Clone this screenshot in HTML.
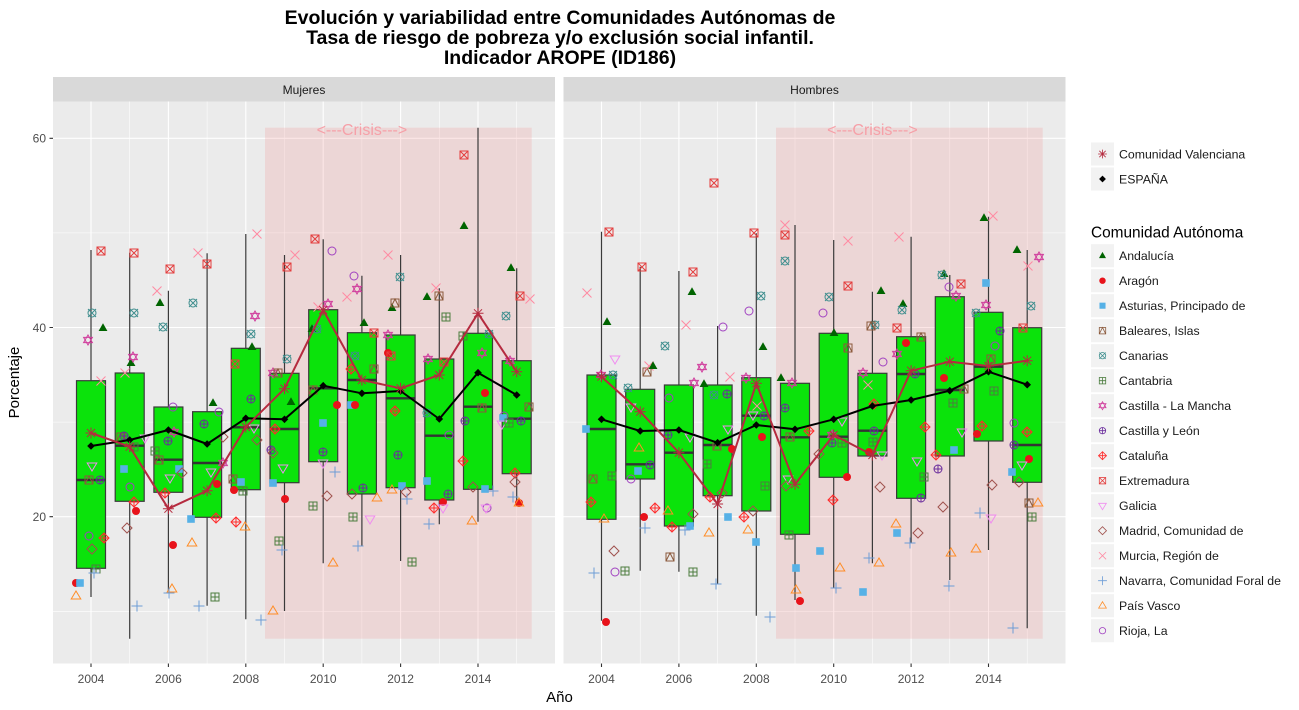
<!DOCTYPE html>
<html><head><meta charset="utf-8"><style>
html,body{margin:0;padding:0;background:#fff;}
svg{display:block;font-family:"Liberation Sans",Arial,sans-serif;}
</style></head><body>
<svg width="1299" height="710" viewBox="0 0 1299 710" xmlns="http://www.w3.org/2000/svg">
<defs>
<polygon id="a" points="0,-4.8 4.4,3 -4.4,3" fill="#006400"/>
<circle id="r" r="4" fill="#E8131B"/>
<rect id="s" x="-3.8" y="-3.8" width="7.6" height="7.6" fill="#56B1E6"/>
<g id="b" stroke="#8B5A3C" fill="none" stroke-width="1"><rect x="-4" y="-4" width="8" height="8"/><polyline points="-4,4 0,-4 4,4"/></g>
<g id="k" stroke="#3E8E8E" fill="none" stroke-width="1"><circle r="4"/><path d="M-4,-4L4,4M-4,4L4,-4"/></g>
<g id="t" stroke="#4C7D3F" fill="none" stroke-width="1"><rect x="-4" y="-4" width="8" height="8"/><path d="M0,-4V4M-4,0H4"/></g>
<g id="m" stroke="#D03C9C" fill="none" stroke-width="1"><polygon points="0,-5 4.4,2.6 -4.4,2.6"/><polygon points="0,5 4.4,-2.6 -4.4,-2.6"/></g>
<g id="l" stroke="#6A2C9C" fill="none" stroke-width="1"><circle r="4"/><path d="M0,-4V4M-4,0H4"/></g>
<g id="c" stroke="#FF2B2B" fill="none" stroke-width="1"><polygon points="0,-5 5,0 0,5 -5,0"/><path d="M0,-5V5M-5,0H5"/></g>
<g id="e" stroke="#E33D3D" fill="none" stroke-width="1"><rect x="-4" y="-4" width="8" height="8"/><path d="M-4,-4L4,4M-4,4L4,-4"/></g>
<polygon id="g" points="-4.8,-3 4.8,-3 0,5" stroke="#F08CF0" fill="none" stroke-width="1"/>
<polygon id="d" points="0,-5 5,0 0,5 -5,0" stroke="#A0524E" fill="none" stroke-width="1"/>
<path id="u" d="M-4.5,-4.5L4.5,4.5M-4.5,4.5L4.5,-4.5" stroke="#FF8AA2" stroke-width="1" fill="none"/>
<path id="n" d="M0,-5.5V5.5M-5.5,0H5.5" stroke="#6C9CD6" stroke-width="1" fill="none"/>
<polygon id="p" points="0,-5 4.8,3 -4.8,3" stroke="#FF8C26" fill="none" stroke-width="1"/>
<circle id="o" r="4" stroke="#A040C0" fill="none" stroke-width="1"/>
<path id="v" d="M-4,-4L4,4M-4,4L4,-4M0,-5.5V5.5M-5.5,0H5.5" stroke="#B52B3F" stroke-width="1" fill="none"/>
<polygon id="x" points="0,-3.8 3.8,0 0,3.8 -3.8,0" fill="#000"/>
</defs>

<!-- Title -->
<g font-weight="bold" font-size="19.5" fill="#000" text-anchor="middle">
<text x="560" y="24">Evolución y variabilidad entre Comunidades Autónomas de</text>
<text x="560" y="44">Tasa de riesgo de pobreza y/o exclusión social infantil.</text>
<text x="560" y="64">Indicador AROPE (ID186)</text>
</g>

<!-- Strips -->
<rect x="53" y="77" width="502" height="24.5" fill="#D9D9D9"/>
<rect x="563.5" y="77" width="502" height="24.5" fill="#D9D9D9"/>
<g font-size="12" fill="#1A1A1A" text-anchor="middle">
<text x="304" y="94">Mujeres</text>
<text x="814.5" y="94">Hombres</text>
</g>

<!-- Panels -->
<rect x="53" y="101.5" width="502" height="562" fill="#EBEBEB"/>
<rect x="563.5" y="101.5" width="502" height="562" fill="#EBEBEB"/>

<!-- Minor grid -->
<g stroke="#fff" stroke-width="0.55">
<path d="M53,611.3H555M53,422.1H555M53,232.9H555M563.5,611.3H1065.5M563.5,422.1H1065.5M563.5,232.9H1065.5"/>
<path d="M129.7,101.5V663.5M207.1,101.5V663.5M284.5,101.5V663.5M361.9,101.5V663.5M439.3,101.5V663.5M516.7,101.5V663.5"/>
<path d="M640.2,101.5V663.5M717.6,101.5V663.5M795,101.5V663.5M872.4,101.5V663.5M949.8,101.5V663.5M1027.2,101.5V663.5"/>
</g>
<!-- Major grid -->
<g stroke="#fff" stroke-width="1.1">
<path d="M53,516.7H555M53,327.5H555M53,138.3H555M563.5,516.7H1065.5M563.5,327.5H1065.5M563.5,138.3H1065.5"/>
<path d="M91,101.5V663.5M168.4,101.5V663.5M245.8,101.5V663.5M323.2,101.5V663.5M400.6,101.5V663.5M478,101.5V663.5"/>
<path d="M601.5,101.5V663.5M678.9,101.5V663.5M756.3,101.5V663.5M833.7,101.5V663.5M911.1,101.5V663.5M988.5,101.5V663.5"/>
</g>

<!-- Crisis rects -->
<rect x="265" y="127.7" width="266.7" height="511" fill="#F08080" fill-opacity="0.2"/>
<rect x="776" y="127.7" width="266.7" height="511" fill="#F08080" fill-opacity="0.2"/>
<g font-size="16" fill="#F6A0A8" text-anchor="middle">
<text x="361.9" y="135">&lt;---Crisis---&gt;</text>
<text x="872.4" y="135">&lt;---Crisis---&gt;</text>
</g>

<!-- Boxplots -->
<g stroke="#3A3A3A" stroke-width="1.2" fill="#0BE30B">
<!-- Left -->
<path d="M91,250V380.7M91,568.3V597" fill="none"/><rect x="76.5" y="380.7" width="29" height="187.6"/>
<path d="M129.7,252.7V373M129.7,501.3V638.7" fill="none"/><rect x="115.2" y="373" width="29" height="128.3"/>
<path d="M168.4,290.7V407M168.4,492.3V591" fill="none"/><rect x="153.9" y="407" width="29" height="85.3"/>
<path d="M207.1,253.3V411.7M207.1,517.3V605.7" fill="none"/><rect x="192.6" y="411.7" width="29" height="105.6"/>
<path d="M245.8,234V348.3M245.8,489.7V619.3" fill="none"/><rect x="231.3" y="348.3" width="29" height="141.4"/>
<path d="M284.5,255V373.3M284.5,482.7V611" fill="none"/><rect x="270" y="373.3" width="29" height="109.4"/>
<path d="M323.2,239.3V309.7M323.2,461.7V563.3" fill="none"/><rect x="308.7" y="309.7" width="29" height="152"/>
<path d="M361.9,275.7V332.7M361.9,494V545.7" fill="none"/><rect x="347.4" y="332.7" width="29" height="161.3"/>
<path d="M400.6,255V335M400.6,487.7V561" fill="none"/><rect x="386.1" y="335" width="29" height="152.7"/>
<path d="M439.3,288.3V359M439.3,500V524.3" fill="none"/><rect x="424.8" y="359" width="29" height="141"/>
<path d="M478,127.7V333.3M478,489.3V521.7" fill="none"/><rect x="463.5" y="333.3" width="29" height="156"/>
<path d="M516.7,268.3V360.7M516.7,473.7V505" fill="none"/><rect x="502.2" y="360.7" width="29" height="113"/>
<!-- Right -->
<path d="M601.5,231.7V375M601.5,519.3V620.7" fill="none"/><rect x="587" y="375" width="29" height="144.3"/>
<path d="M640.2,266.7V389.3M640.2,479V570.7" fill="none"/><rect x="625.7" y="389.3" width="29" height="89.7"/>
<path d="M678.9,271V385M678.9,526V571.7" fill="none"/><rect x="664.4" y="385" width="29" height="141"/>
<path d="M717.6,326V385M717.6,495.7V584" fill="none"/><rect x="703.1" y="385" width="29" height="110.7"/>
<path d="M756.3,233.3V377.7M756.3,511V615.7" fill="none"/><rect x="741.8" y="377.7" width="29" height="133.3"/>
<path d="M795,225V383.3M795,534.3V600" fill="none"/><rect x="780.5" y="383.3" width="29" height="151"/>
<path d="M833.7,240V333.3M833.7,477.3V588.3" fill="none"/><rect x="819.2" y="333.3" width="29" height="144"/>
<path d="M872.4,291.7V373.3M872.4,456V563.3" fill="none"/><rect x="857.9" y="373.3" width="29" height="82.7"/>
<path d="M911.1,236.7V336.7M911.1,498.3V543.3" fill="none"/><rect x="896.6" y="336.7" width="29" height="161.6"/>
<path d="M949.8,275V296.7M949.8,456V580" fill="none"/><rect x="935.3" y="296.7" width="29" height="159.3"/>
<path d="M988.5,216.7V312.3M988.5,441V550" fill="none"/><rect x="974" y="312.3" width="29" height="128.7"/>
<path d="M1027.2,250V327.7M1027.2,482.3V628.3" fill="none"/><rect x="1012.7" y="327.7" width="29" height="154.6"/>
</g>
<!-- Medians -->
<g stroke="#333" stroke-width="2.4">
<path d="M76.5,480H105.5M115.2,445.7H144.2M153.9,459.7H182.9M192.6,463H221.6M231.3,427.3H260.3M270,429H299M308.7,388.3H337.7M347.4,380H376.4M386.1,398.3H415.1M424.8,435.7H453.8M463.5,406.7H492.5M502.2,418.7H531.2"/>
<path d="M587,429H616M625.7,464.3H654.7M664.4,452.7H693.4M703.1,445H732.1M741.8,415.7H770.8M780.5,437.3H809.5M819.2,436.7H848.2M857.9,430.7H886.9M896.6,374H925.6M935.3,390H964.3M974,366.7H1003M1012.7,445H1041.7"/>
</g>

<!-- Points left -->
<g>
<use href="#k" x="92" y="313"/><use href="#e" x="101" y="251"/><use href="#m" x="88" y="340"/><use href="#a" x="103" y="328"/><use href="#u" x="101" y="381"/><use href="#g" x="92" y="466"/><use href="#b" x="89" y="480"/><use href="#l" x="100" y="480"/><use href="#o" x="89" y="536"/><use href="#d" x="92" y="549"/><use href="#c" x="104" y="538"/><use href="#t" x="96" y="569"/><use href="#n" x="94" y="573"/><use href="#r" x="76" y="583"/><use href="#s" x="80" y="583"/><use href="#p" x="76" y="596"/>
<use href="#e" x="134" y="253"/><use href="#k" x="134" y="313"/><use href="#a" x="131" y="363"/><use href="#m" x="133" y="357"/><use href="#u" x="125" y="373"/><use href="#b" x="121" y="437"/><use href="#l" x="124" y="436"/><use href="#g" x="145" y="438"/><use href="#t" x="134" y="447"/><use href="#s" x="124" y="469"/><use href="#o" x="130" y="487"/><use href="#c" x="134" y="502"/><use href="#r" x="136" y="511"/><use href="#d" x="127" y="528"/><use href="#n" x="137" y="606"/>
<use href="#e" x="170" y="269"/><use href="#u" x="157" y="291"/><use href="#a" x="160" y="303"/><use href="#k" x="163" y="327"/><use href="#o" x="173" y="407"/><use href="#m" x="174" y="432"/><use href="#l" x="168" y="441"/><use href="#t" x="155" y="451"/><use href="#b" x="159" y="460"/><use href="#g" x="170" y="478"/><use href="#s" x="179" y="469"/><use href="#d" x="182" y="473"/><use href="#c" x="165" y="493"/><use href="#r" x="173" y="545"/><use href="#p" x="172" y="589"/><use href="#n" x="169" y="593"/>
<use href="#u" x="198" y="253"/><use href="#e" x="207" y="264"/><use href="#k" x="193" y="303"/><use href="#a" x="213" y="403"/><use href="#o" x="219" y="412"/><use href="#l" x="204" y="424"/><use href="#d" x="223" y="437"/><use href="#m" x="223" y="463"/><use href="#g" x="211" y="472"/><use href="#r" x="217" y="484"/><use href="#c" x="216" y="518"/><use href="#s" x="191" y="519"/><use href="#p" x="192" y="543"/><use href="#t" x="215" y="597"/><use href="#n" x="199" y="606"/>
<use href="#u" x="257" y="234"/><use href="#m" x="255" y="316"/><use href="#k" x="251" y="334"/><use href="#a" x="252" y="347"/><use href="#e" x="235" y="364"/><use href="#l" x="251" y="399"/><use href="#g" x="254" y="428"/><use href="#d" x="257" y="440"/><use href="#b" x="233" y="479"/><use href="#s" x="241" y="482"/><use href="#t" x="243" y="491"/><use href="#r" x="234" y="490"/><use href="#c" x="236" y="522"/><use href="#p" x="245" y="527"/><use href="#n" x="261" y="620"/>
<use href="#e" x="287" y="267"/><use href="#u" x="295" y="255"/><use href="#k" x="287" y="359"/><use href="#m" x="273" y="373"/><use href="#b" x="278" y="373"/><use href="#a" x="291" y="402"/><use href="#c" x="275" y="429"/><use href="#l" x="271" y="450"/><use href="#d" x="273" y="453"/><use href="#g" x="283" y="468"/><use href="#s" x="273" y="483"/><use href="#r" x="285" y="499"/><use href="#t" x="279" y="541"/><use href="#n" x="282" y="550"/><use href="#p" x="273" y="611"/>
<use href="#e" x="315" y="239"/><use href="#o" x="332" y="251"/><use href="#u" x="318" y="307"/><use href="#m" x="328" y="304"/><use href="#a" x="312" y="329"/><use href="#k" x="317" y="329"/><use href="#b" x="313" y="390"/><use href="#r" x="337" y="405"/><use href="#s" x="323" y="423"/><use href="#l" x="323" y="452"/><use href="#g" x="323" y="463"/><use href="#n" x="335" y="472"/><use href="#d" x="327" y="496"/><use href="#t" x="313" y="506"/><use href="#p" x="333" y="563"/>
<use href="#o" x="354" y="276"/><use href="#m" x="357" y="289"/><use href="#u" x="347" y="297"/><use href="#a" x="364" y="323"/><use href="#e" x="374" y="333"/><use href="#k" x="355" y="356"/><use href="#b" x="374" y="369"/><use href="#c" x="351" y="369"/><use href="#s" x="351" y="405"/><use href="#r" x="355" y="405"/><use href="#d" x="352" y="494"/><use href="#l" x="363" y="488"/><use href="#p" x="377" y="498"/><use href="#t" x="353" y="517"/><use href="#g" x="370" y="519"/><use href="#n" x="358" y="546"/>
<use href="#u" x="388" y="255"/><use href="#k" x="400" y="277"/><use href="#a" x="392" y="308"/><use href="#b" x="395" y="303"/><use href="#m" x="388" y="335"/><use href="#r" x="388" y="353"/><use href="#e" x="391" y="356"/><use href="#c" x="395" y="411"/><use href="#l" x="398" y="455"/><use href="#p" x="392" y="490"/><use href="#s" x="402" y="486"/><use href="#d" x="406" y="492"/><use href="#n" x="407" y="499"/><use href="#t" x="412" y="562"/>
<use href="#u" x="436" y="288"/><use href="#a" x="427" y="297"/><use href="#b" x="439" y="296"/><use href="#t" x="446" y="317"/><use href="#m" x="428" y="359"/><use href="#e" x="444" y="362"/><use href="#k" x="427" y="413"/><use href="#o" x="449" y="435"/><use href="#s" x="427" y="481"/><use href="#l" x="448" y="494"/><use href="#r" x="443" y="502"/><use href="#c" x="434" y="508"/><use href="#g" x="443" y="508"/><use href="#n" x="429" y="524"/>
<use href="#e" x="464" y="155"/><use href="#a" x="464" y="226"/><use href="#k" x="489" y="334"/><use href="#t" x="463" y="336"/><use href="#m" x="482" y="353"/><use href="#r" x="485" y="393"/><use href="#b" x="482" y="408"/><use href="#l" x="465" y="421"/><use href="#c" x="463" y="461"/><use href="#d" x="473" y="487"/><use href="#s" x="485" y="489"/><use href="#n" x="493" y="491"/><use href="#o" x="487" y="508"/><use href="#g" x="486" y="508"/><use href="#p" x="472" y="521"/>
<use href="#a" x="511" y="268"/><use href="#e" x="520" y="296"/><use href="#u" x="530" y="299"/><use href="#k" x="506" y="316"/><use href="#m" x="510" y="361"/><use href="#b" x="529" y="407"/><use href="#o" x="504" y="416"/><use href="#s" x="503" y="418"/><use href="#g" x="502" y="424"/><use href="#t" x="509" y="423"/><use href="#l" x="521" y="421"/><use href="#c" x="515" y="473"/><use href="#d" x="515" y="482"/><use href="#n" x="513" y="497"/><use href="#r" x="519" y="503"/><use href="#p" x="519" y="503"/>
</g>

<!-- Points right -->
<g>
<use href="#e" x="609" y="232"/><use href="#u" x="587" y="293"/><use href="#a" x="607" y="322"/><use href="#g" x="615" y="359"/><use href="#m" x="601" y="375"/><use href="#k" x="613" y="375"/><use href="#s" x="586" y="429"/><use href="#b" x="593" y="479"/><use href="#t" x="612" y="476"/><use href="#c" x="591" y="502"/><use href="#p" x="604" y="519"/><use href="#d" x="614" y="551"/><use href="#o" x="615" y="572"/><use href="#n" x="594" y="573"/><use href="#r" x="606" y="622"/>
<use href="#e" x="642" y="267"/><use href="#b" x="647" y="372"/><use href="#u" x="649" y="366"/><use href="#a" x="653" y="366"/><use href="#k" x="628" y="388"/><use href="#g" x="631" y="407"/><use href="#p" x="639" y="448"/><use href="#s" x="638" y="471"/><use href="#l" x="650" y="465"/><use href="#o" x="631" y="479"/><use href="#r" x="644" y="517"/><use href="#n" x="645" y="528"/><use href="#t" x="625" y="571"/>
<use href="#e" x="693" y="272"/><use href="#a" x="692" y="292"/><use href="#u" x="686" y="325"/><use href="#k" x="665" y="346"/><use href="#m" x="694" y="383"/><use href="#o" x="669" y="398"/><use href="#l" x="668" y="435"/><use href="#g" x="690" y="437"/><use href="#c" x="655" y="508"/><use href="#p" x="668" y="511"/><use href="#d" x="693" y="514"/><use href="#c" x="672" y="527"/><use href="#s" x="690" y="526"/><use href="#n" x="685" y="530"/><use href="#b" x="670" y="557"/><use href="#t" x="693" y="572"/>
<use href="#e" x="714" y="183"/><use href="#o" x="723" y="327"/><use href="#m" x="702" y="367"/><use href="#u" x="730" y="377"/><use href="#a" x="704" y="384"/><use href="#k" x="714" y="395"/><use href="#l" x="727" y="394"/><use href="#g" x="728" y="429"/><use href="#b" x="717" y="446"/><use href="#r" x="732" y="449"/><use href="#t" x="707" y="464"/><use href="#d" x="722" y="493"/><use href="#c" x="710" y="497"/><use href="#s" x="728" y="517"/><use href="#p" x="709" y="533"/><use href="#n" x="716" y="584"/>
<use href="#e" x="754" y="233"/><use href="#k" x="761" y="296"/><use href="#o" x="749" y="311"/><use href="#a" x="763" y="347"/><use href="#m" x="746" y="378"/><use href="#u" x="757" y="406"/><use href="#g" x="753" y="415"/><use href="#l" x="764" y="416"/><use href="#r" x="762" y="437"/><use href="#t" x="765" y="486"/><use href="#d" x="753" y="511"/><use href="#c" x="744" y="517"/><use href="#p" x="748" y="530"/><use href="#s" x="756" y="542"/><use href="#n" x="770" y="617"/>
<use href="#u" x="785" y="225"/><use href="#e" x="785" y="235"/><use href="#k" x="785" y="261"/><use href="#a" x="781" y="378"/><use href="#m" x="792" y="383"/><use href="#l" x="785" y="408"/><use href="#c" x="809" y="431"/><use href="#b" x="790" y="437"/><use href="#g" x="788" y="479"/><use href="#d" x="786" y="486"/><use href="#t" x="789" y="535"/><use href="#s" x="796" y="568"/><use href="#p" x="796" y="590"/><use href="#r" x="800" y="601"/>
<use href="#u" x="848" y="241"/><use href="#e" x="848" y="286"/><use href="#k" x="829" y="297"/><use href="#o" x="823" y="313"/><use href="#a" x="834" y="333"/><use href="#b" x="848" y="348"/><use href="#g" x="842" y="421"/><use href="#m" x="832" y="435"/><use href="#l" x="832" y="443"/><use href="#t" x="842" y="443"/><use href="#d" x="819" y="454"/><use href="#r" x="847" y="477"/><use href="#c" x="833" y="500"/><use href="#s" x="820" y="551"/><use href="#p" x="840" y="568"/><use href="#n" x="836" y="588"/>
<use href="#a" x="881" y="291"/><use href="#k" x="875" y="325"/><use href="#b" x="871" y="326"/><use href="#o" x="883" y="362"/><use href="#m" x="863" y="373"/><use href="#u" x="868" y="385"/><use href="#c" x="874" y="404"/><use href="#l" x="874" y="431"/><use href="#t" x="873" y="442"/><use href="#r" x="869" y="452"/><use href="#g" x="882" y="455"/><use href="#d" x="880" y="487"/><use href="#p" x="879" y="563"/><use href="#n" x="869" y="558"/><use href="#s" x="863" y="592"/>
<use href="#u" x="899" y="237"/><use href="#a" x="903" y="304"/><use href="#k" x="902" y="310"/><use href="#e" x="897" y="328"/><use href="#b" x="921" y="337"/><use href="#r" x="906" y="343"/><use href="#m" x="897" y="354"/><use href="#l" x="915" y="374"/><use href="#c" x="925" y="427"/><use href="#g" x="917" y="461"/><use href="#t" x="924" y="477"/><use href="#l" x="921" y="498"/><use href="#p" x="896" y="524"/><use href="#d" x="918" y="533"/><use href="#s" x="897" y="533"/><use href="#n" x="910" y="543"/>
<use href="#a" x="944" y="274"/><use href="#k" x="942" y="275"/><use href="#o" x="949" y="287"/><use href="#e" x="961" y="284"/><use href="#m" x="956" y="296"/><use href="#r" x="944" y="378"/><use href="#b" x="964" y="389"/><use href="#t" x="953" y="403"/><use href="#g" x="962" y="432"/><use href="#c" x="936" y="455"/><use href="#s" x="954" y="450"/><use href="#l" x="938" y="469"/><use href="#d" x="943" y="507"/><use href="#p" x="951" y="553"/><use href="#n" x="949" y="586"/>
<use href="#a" x="984" y="218"/><use href="#u" x="993" y="216"/><use href="#s" x="986" y="283"/><use href="#m" x="986" y="305"/><use href="#k" x="976" y="313"/><use href="#l" x="1000" y="331"/><use href="#o" x="995" y="346"/><use href="#b" x="991" y="359"/><use href="#t" x="994" y="391"/><use href="#c" x="982" y="426"/><use href="#r" x="977" y="434"/><use href="#d" x="992" y="485"/><use href="#n" x="980" y="513"/><use href="#g" x="991" y="518"/><use href="#p" x="976" y="549"/>
<use href="#a" x="1017" y="250"/><use href="#m" x="1039" y="257"/><use href="#u" x="1028" y="266"/><use href="#k" x="1031" y="306"/><use href="#e" x="1023" y="328"/><use href="#o" x="1014" y="423"/><use href="#c" x="1027" y="432"/><use href="#l" x="1014" y="445"/><use href="#r" x="1029" y="459"/><use href="#g" x="1022" y="465"/><use href="#s" x="1012" y="472"/><use href="#d" x="1019" y="482"/><use href="#b" x="1029" y="503"/><use href="#p" x="1038" y="503"/><use href="#t" x="1032" y="517"/><use href="#n" x="1013" y="628"/>
</g>

<!-- España lines -->
<g fill="none" stroke-width="2" stroke-linejoin="round">
<polyline stroke="#000" points="91,446 129.7,440 168.4,430 207.1,444 245.8,418.3 284.5,419.3 323.2,385.7 361.9,393.3 400.6,391 439.3,419 478,372.7 516.7,395"/>
<polyline stroke="#000" points="601.5,419.3 640.2,431 678.9,430 717.6,442.7 756.3,425 795,429.3 833.7,419.3 872.4,406 911.1,400 949.8,390.7 988.5,371.7 1027.2,384.7"/>
<polyline stroke="#B52B3F" points="91,433 129.7,446.7 168.4,508.7 207.1,490.7 245.8,427 284.5,388.7 323.2,310 361.9,380 400.6,388.3 439.3,375 478,313.3 516.7,371.7"/>
<polyline stroke="#B52B3F" points="601.5,376.7 640.2,411.7 678.9,452.7 717.6,504 756.3,383.3 795,484.3 833.7,435 872.4,455 911.1,370.7 949.8,361.7 988.5,366 1027.2,360.7"/>
</g>
<g>
<use href="#x" x="91" y="446"/><use href="#x" x="129.7" y="440"/><use href="#x" x="168.4" y="430"/><use href="#x" x="207.1" y="444"/><use href="#x" x="245.8" y="418.3"/><use href="#x" x="284.5" y="419.3"/><use href="#x" x="323.2" y="385.7"/><use href="#x" x="361.9" y="393.3"/><use href="#x" x="400.6" y="391"/><use href="#x" x="439.3" y="419"/><use href="#x" x="478" y="372.7"/><use href="#x" x="516.7" y="395"/>
<use href="#x" x="601.5" y="419.3"/><use href="#x" x="640.2" y="431"/><use href="#x" x="678.9" y="430"/><use href="#x" x="717.6" y="442.7"/><use href="#x" x="756.3" y="425"/><use href="#x" x="795" y="429.3"/><use href="#x" x="833.7" y="419.3"/><use href="#x" x="872.4" y="406"/><use href="#x" x="911.1" y="400"/><use href="#x" x="949.8" y="390.7"/><use href="#x" x="988.5" y="371.7"/><use href="#x" x="1027.2" y="384.7"/>
<use href="#v" x="91" y="433"/><use href="#v" x="129.7" y="446.7"/><use href="#v" x="168.4" y="508.7"/><use href="#v" x="207.1" y="490.7"/><use href="#v" x="245.8" y="427"/><use href="#v" x="284.5" y="388.7"/><use href="#v" x="323.2" y="310"/><use href="#v" x="361.9" y="380"/><use href="#v" x="400.6" y="388.3"/><use href="#v" x="439.3" y="375"/><use href="#v" x="478" y="313.3"/><use href="#v" x="516.7" y="371.7"/>
<use href="#v" x="601.5" y="376.7"/><use href="#v" x="640.2" y="411.7"/><use href="#v" x="678.9" y="452.7"/><use href="#v" x="717.6" y="504"/><use href="#v" x="756.3" y="383.3"/><use href="#v" x="795" y="484.3"/><use href="#v" x="833.7" y="435"/><use href="#v" x="872.4" y="455"/><use href="#v" x="911.1" y="370.7"/><use href="#v" x="949.8" y="361.7"/><use href="#v" x="988.5" y="366"/><use href="#v" x="1027.2" y="360.7"/>
</g>

<!-- Axes ticks -->
<g stroke="#333" stroke-width="1.1">
<path d="M49.5,516.7H53M49.5,327.5H53M49.5,138.3H53"/>
<path d="M91,663.5V667M168.4,663.5V667M245.8,663.5V667M323.2,663.5V667M400.6,663.5V667M478,663.5V667"/>
<path d="M601.5,663.5V667M678.9,663.5V667M756.3,663.5V667M833.7,663.5V667M911.1,663.5V667M988.5,663.5V667"/>
</g>
<g font-size="12" fill="#4D4D4D">
<g text-anchor="end"><text x="46" y="142.6">60</text><text x="46" y="331.8">40</text><text x="46" y="521">20</text></g>
<g text-anchor="middle">
<text x="91" y="683">2004</text><text x="168.4" y="683">2006</text><text x="245.8" y="683">2008</text><text x="323.2" y="683">2010</text><text x="400.6" y="683">2012</text><text x="478" y="683">2014</text>
<text x="601.5" y="683">2004</text><text x="678.9" y="683">2006</text><text x="756.3" y="683">2008</text><text x="833.7" y="683">2010</text><text x="911.1" y="683">2012</text><text x="988.5" y="683">2014</text>
</g>
</g>
<text x="559.5" y="702" font-size="15" fill="#000" text-anchor="middle">Año</text>
<text transform="translate(19,382.5) rotate(-90)" font-size="15" fill="#000" text-anchor="middle">Porcentaje</text>

<!-- Legend 1 -->
<g fill="#F2F2F2">
<rect x="1091" y="142.5" width="23" height="23"/><rect x="1091" y="167.5" width="23" height="23"/>
<rect x="1091" y="244.2" width="23" height="23"/><rect x="1091" y="269.2" width="23" height="23"/><rect x="1091" y="294.2" width="23" height="23"/><rect x="1091" y="319.2" width="23" height="23"/>
<rect x="1091" y="344.2" width="23" height="23"/><rect x="1091" y="369.2" width="23" height="23"/><rect x="1091" y="394.2" width="23" height="23"/><rect x="1091" y="419.2" width="23" height="23"/>
<rect x="1091" y="444.2" width="23" height="23"/><rect x="1091" y="469.2" width="23" height="23"/><rect x="1091" y="494.2" width="23" height="23"/><rect x="1091" y="519.2" width="23" height="23"/>
<rect x="1091" y="544.2" width="23" height="23"/><rect x="1091" y="569.2" width="23" height="23"/><rect x="1091" y="594.2" width="23" height="23"/><rect x="1091" y="619.2" width="23" height="23"/>
</g>
<g>
<use href="#v" transform="translate(1102.5,154) scale(0.8)"/>
<use href="#x" transform="translate(1102.5,179) scale(0.9)"/>
<use href="#a" transform="translate(1102.5,255.7) scale(0.8)"/>
<use href="#r" transform="translate(1102.5,280.7) scale(0.8)"/>
<use href="#s" transform="translate(1102.5,305.7) scale(0.8)"/>
<use href="#b" transform="translate(1102.5,330.7) scale(0.8)"/>
<use href="#k" transform="translate(1102.5,355.7) scale(0.8)"/>
<use href="#t" transform="translate(1102.5,380.7) scale(0.8)"/>
<use href="#m" transform="translate(1102.5,405.7) scale(0.8)"/>
<use href="#l" transform="translate(1102.5,430.7) scale(0.8)"/>
<use href="#c" transform="translate(1102.5,455.7) scale(0.8)"/>
<use href="#e" transform="translate(1102.5,480.7) scale(0.8)"/>
<use href="#g" transform="translate(1102.5,505.7) scale(0.8)"/>
<use href="#d" transform="translate(1102.5,530.7) scale(0.8)"/>
<use href="#u" transform="translate(1102.5,555.7) scale(0.8)"/>
<use href="#n" transform="translate(1102.5,580.7) scale(0.8)"/>
<use href="#p" transform="translate(1102.5,605.7) scale(0.8)"/>
<use href="#o" transform="translate(1102.5,630.7) scale(0.8)"/>
</g>
<g font-size="12.3" fill="#1A1A1A">
<text x="1119" y="158.4">Comunidad Valenciana</text>
<text x="1119" y="183.4">ESPAÑA</text>
<text x="1119" y="260.1">Andalucía</text>
<text x="1119" y="285.1">Aragón</text>
<text x="1119" y="310.1">Asturias, Principado de</text>
<text x="1119" y="335.1">Baleares, Islas</text>
<text x="1119" y="360.1">Canarias</text>
<text x="1119" y="385.1">Cantabria</text>
<text x="1119" y="410.1">Castilla - La Mancha</text>
<text x="1119" y="435.1">Castilla y León</text>
<text x="1119" y="460.1">Cataluña</text>
<text x="1119" y="485.1">Extremadura</text>
<text x="1119" y="510.1">Galicia</text>
<text x="1119" y="535.1">Madrid, Comunidad de</text>
<text x="1119" y="560.1">Murcia, Región de</text>
<text x="1119" y="585.1">Navarra, Comunidad Foral de</text>
<text x="1119" y="610.1">País Vasco</text>
<text x="1119" y="635.1">Rioja, La</text>
</g>
<text x="1091" y="237.5" font-size="15.4" fill="#000">Comunidad Autónoma</text>
</svg>
</body></html>
